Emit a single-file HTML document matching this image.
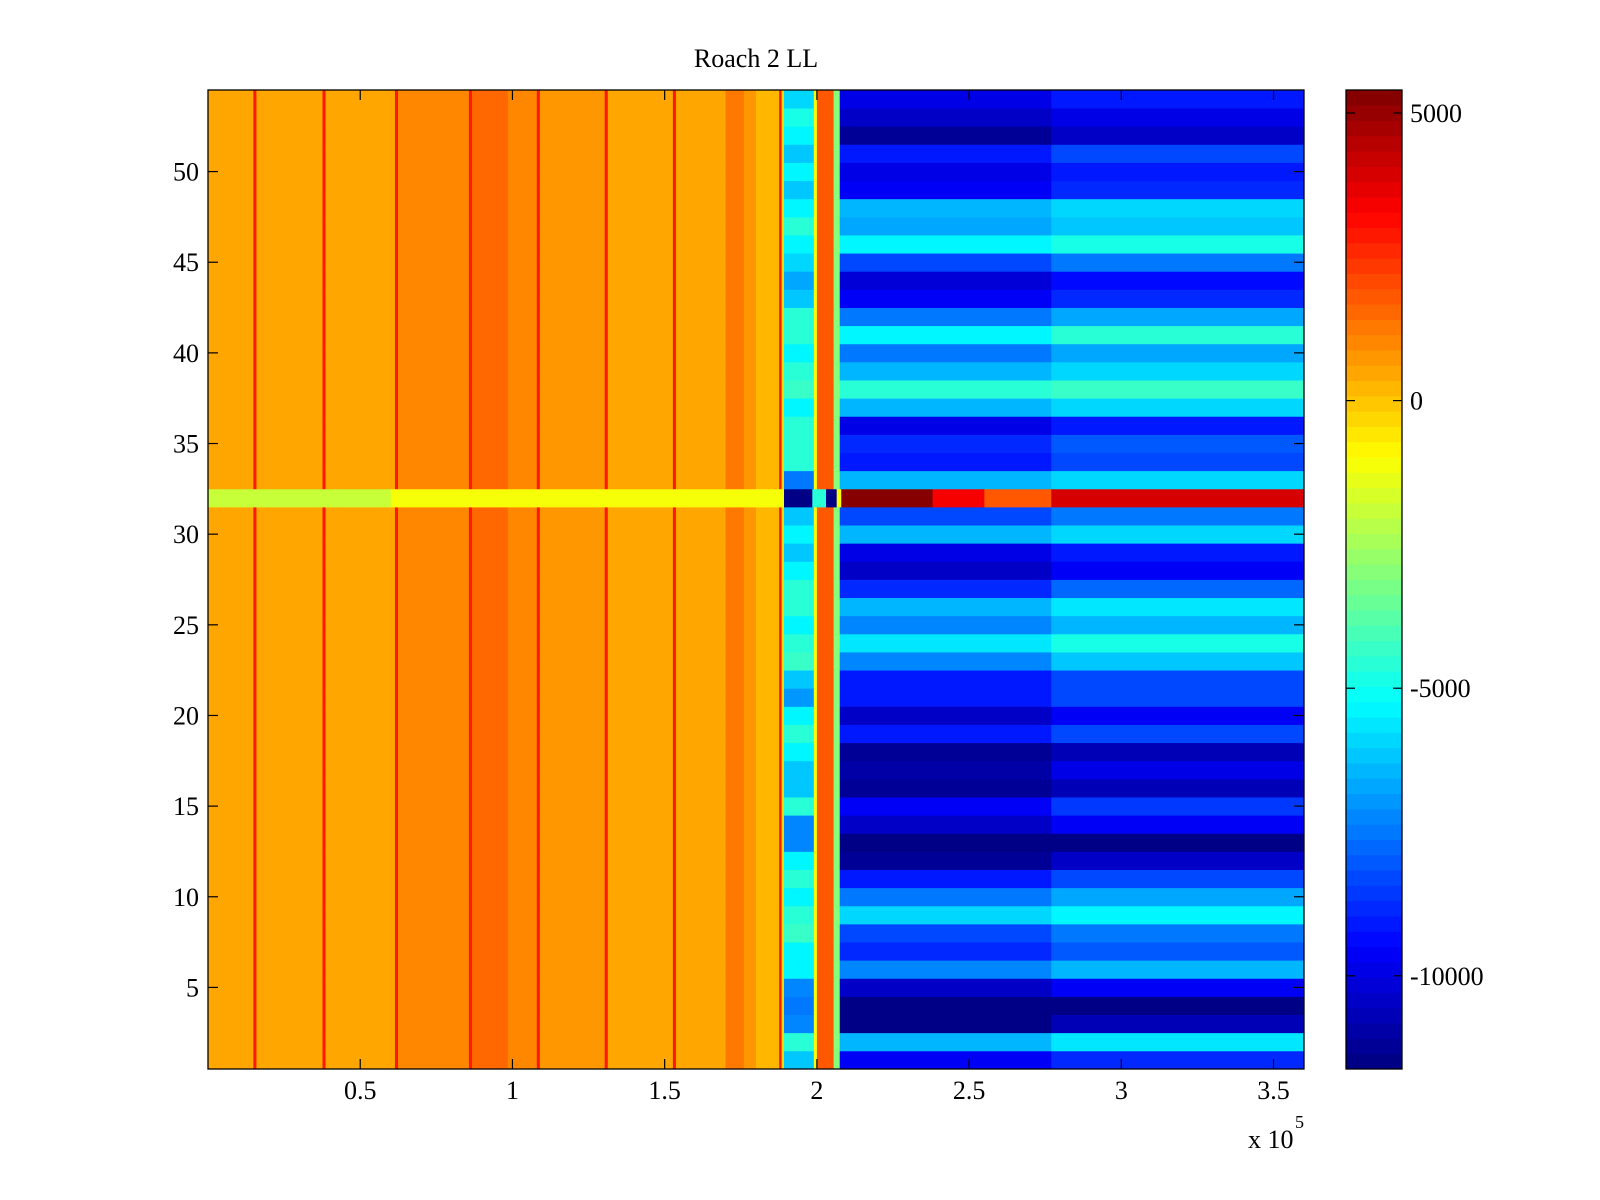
<!DOCTYPE html>
<html><head><meta charset="utf-8"><style>
html,body{margin:0;padding:0;background:#fff;}
svg{display:block;font-family:"Liberation Serif",serif;}
</style></head><body>
<svg id="chart" width="1600" height="1200" viewBox="0 0 1600 1200" xmlns="http://www.w3.org/2000/svg">
<rect x="0" y="0" width="1600" height="1200" fill="#fff"/>
<text x="756" y="67" font-size="26" text-anchor="middle">Roach 2 LL</text>
<g id="cells"></g>
<g id="cbar"></g>
<g id="axes"></g>
</svg>
<script>
// ---- data ----
const xTicks = [0.5, 1, 1.5, 2, 2.5, 3, 3.5];
const xTickLabels = ["0.5", "1", "1.5", "2", "2.5", "3", "3.5"];
const yTicks = [5, 10, 15, 20, 25, 30, 35, 40, 45, 50];
const cTicks = [5000, 0, -5000, -10000];
const cTickLabels = ["5000", "0", "-5000", "-10000"];
// column segments (x in units of 1e5)
const segStart = [0,0.149,0.159,0.376,0.386,0.614,0.624,0.857,0.867,0.985,1.08,1.09,1.303,1.313,1.527,1.537,1.70,1.76,1.80,1.876,1.884,1.892,1.99,2.0,2.055,2.075,2.77];
const segVal = [500,2800,550,2800,600,2800,1100,3000,1600,1000,2800,800,2800,600,2800,600,1400,700,300,2800,-200,'mid',-1000,1700,-3000,'right','late'];
// per-row values (row 1 .. row 54)
const midRow = [-6100,-4500,-7360,-7600,-7360,-5500,-5240,-4300,-4500,-5240,-4500,-5240,-7360,-7360,-4500,-6100,-6100,-5240,-4500,-5500,-6850,-6100,-4300,-4500,-5240,-4500,-4500,-5300,-6100,-5300,-6100,0,-7600,-4500,-4500,-4700,-5300,-4300,-4700,-5300,-4500,-4700,-6100,-6800,-5800,-5300,-4700,-5300,-6100,-5300,-6100,-5300,-4800,-5800];
const rightRow = [-9700,-6400,-11400,-11600,-10300,-7100,-8700,-8300,-6000,-7600,-9000,-11100,-11600,-10300,-9500,-11300,-10900,-11300,-9000,-10300,-9000,-9000,-7100,-5600,-7200,-6400,-8700,-10500,-10000,-6400,-8300,0,-6400,-9000,-8800,-9900,-6400,-4700,-6500,-7600,-5300,-7600,-9600,-10200,-8300,-5300,-6800,-6400,-9500,-10000,-9000,-11100,-10500,-10000];
const lateRow = [-8800,-5700,-10800,-11600,-9600,-6400,-8000,-7500,-5300,-6800,-8200,-10500,-11600,-9500,-8600,-10600,-10000,-10600,-8200,-9500,-8200,-8200,-6300,-4900,-6500,-5700,-7800,-9700,-9200,-5800,-7400,0,-5800,-8200,-8000,-9100,-5800,-4300,-5800,-6800,-4700,-6800,-8800,-9400,-7500,-4800,-6100,-5800,-8700,-9200,-8200,-10500,-9800,-9200];
// row 32 special segments
const row32Start = [0, 0.6, 1.892, 1.985, 2.03, 2.065, 2.08, 2.38, 2.55, 2.77];
const row32Val = [-1800, -1000, -11500, -4500, -11500, -1000, 5300, 3300, 1800, 4000];
const specialRow = 32;
const nRows = 54, xMax = 3.6, cMin = -11620, cMax = 5400;

// ---- axes functions ----
const PL = 208, PR = 1304, PT = 90, PB = 1069;
const xS = v => PL + v / xMax * (PR - PL);
const yS = v => PT + (nRows + 0.5 - v) / nRows * (PB - PT);
const CBL = 1346, CBR = 1402, CBT = 90, CBB = 1069;
const cS = v => CBB - (v - cMin) / (cMax - cMin) * (CBB - CBT);
function jet(v) {
  let f = (v - cMin) / (cMax - cMin);
  f = Math.max(0, Math.min(1, f));
  const lvl = Math.min(63, Math.floor(f * 64));
  const t = (lvl + 0.5) / 64;
  const c = a => Math.round(255 * Math.max(0, Math.min(1, 1.5 - Math.abs(4 * t - a))));
  return `rgb(${c(3)},${c(2)},${c(1)})`;
}
const NS = "http://www.w3.org/2000/svg";
function mk(tag, attrs, parent) {
  const e = document.createElementNS(NS, tag);
  for (const k in attrs) e.setAttribute(k, attrs[k]);
  parent.appendChild(e);
  return e;
}
const cells = document.getElementById('cells');
for (let r = 1; r <= nRows; r++) {
  const y0 = yS(r + 0.5), y1 = yS(r - 0.5);
  const starts = r === specialRow ? row32Start : segStart;
  const vals = r === specialRow ? row32Val : segVal;
  for (let s = 0; s < starts.length; s++) {
    const x0 = xS(starts[s]);
    const x1 = xS(s + 1 < starts.length ? starts[s + 1] : xMax);
    let v = vals[s];
    if (v === 'mid') v = midRow[r - 1];
    else if (v === 'right') v = rightRow[r - 1];
    else if (v === 'late') v = lateRow[r - 1];
    const el = mk('rect', {x: x0.toFixed(2), y: y0.toFixed(2), width: (x1 - x0 + 0.4).toFixed(2), height: (y1 - y0 + 0.4).toFixed(2), fill: jet(v)}, cells);
    
    
  }
}
// colorbar
const cbar = document.getElementById('cbar');
for (let i = 0; i < 64; i++) {
  const v0 = cMin + i * (cMax - cMin) / 64, v1 = cMin + (i + 1) * (cMax - cMin) / 64;
  const el = mk('rect', {x: CBL, y: cS(v1).toFixed(2), width: CBR - CBL, height: (cS(v0) - cS(v1) + 0.4).toFixed(2), fill: jet((v0 + v1) / 2)}, cbar);
  
  
}
const cbFrame = mk('rect', {x: CBL, y: CBT, width: CBR - CBL, height: CBB - CBT, fill: 'none', stroke: '#000', 'stroke-width': 1.3}, cbar);


cTicks.forEach((t, i) => {
  const y = cS(t);
  mk('line', {x1: CBL, x2: CBL + 9, y1: y, y2: y, stroke: '#000', 'stroke-width': 1.2}, cbar);
  mk('line', {x1: CBR - 9, x2: CBR, y1: y, y2: y, stroke: '#000', 'stroke-width': 1.2}, cbar);
  const tx = mk('text', {x: 1410, y: y + 9, 'font-size': 26}, cbar);
  tx.textContent = cTickLabels[i];
  
  
});
// axes
const axes = document.getElementById('axes');
const frame = mk('rect', {x: PL, y: PT, width: PR - PL, height: PB - PT, fill: 'none', stroke: '#000', 'stroke-width': 1.3}, axes);


xTicks.forEach((t, i) => {
  const x = xS(t);
  mk('line', {x1: x, x2: x, y1: PB, y2: PB - 10, stroke: '#000', 'stroke-width': 1.2}, axes);
  mk('line', {x1: x, x2: x, y1: PT, y2: PT + 10, stroke: '#000', 'stroke-width': 1.2}, axes);
  const tx = mk('text', {x: x, y: 1099, 'font-size': 26, 'text-anchor': 'middle'}, axes);
  tx.textContent = xTickLabels[i];
  
  
});
yTicks.forEach(t => {
  const y = yS(t);
  mk('line', {x1: PL, x2: PL + 10, y1: y, y2: y, stroke: '#000', 'stroke-width': 1.2}, axes);
  mk('line', {x1: PR - 10, x2: PR, y1: y, y2: y, stroke: '#000', 'stroke-width': 1.2}, axes);
  const tx = mk('text', {x: 199, y: y + 9, 'font-size': 26, 'text-anchor': 'end'}, axes);
  tx.textContent = String(t);
  
  
});
const ex = mk('text', {x: 1248, y: 1148, 'font-size': 26}, axes);
ex.textContent = 'x 10';


const ex5 = mk('text', {x: 1295, y: 1128, 'font-size': 18}, axes);
ex5.textContent = '5';


</script>
</body></html>
